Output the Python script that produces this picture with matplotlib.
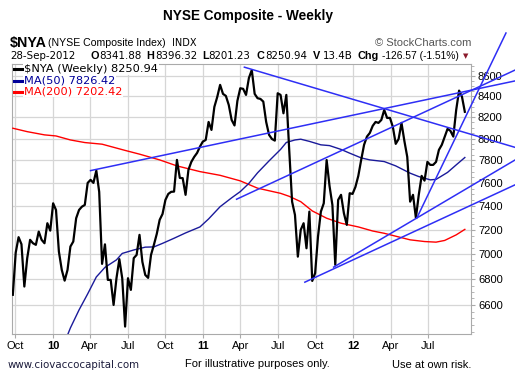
import datetime as dt
import matplotlib
matplotlib.use('Agg')
import matplotlib.pyplot as plt
from matplotlib.ticker import FixedLocator, NullFormatter

# weekly closes of $NYA, first week ending 25-Sep-2009, last 28-Sep-2012
start = dt.date(2009, 9, 25)
closes = [6678, 7011, 7138, 7080, 6742, 6967, 7116, 7088, 7075, 7184,
          7116, 7088, 7254, 7192, 7423, 7366, 7020, 6873, 6788, 6873,
          7061, 7102, 7296, 7366, 7394, 7409, 7600, 7627, 7600, 7709,
          7522, 6921, 7079, 6794, 6794, 6600, 6807, 6959, 6807, 6437,
          6807, 6716, 6967, 6993, 7157, 6937, 6833, 6810, 6993, 7075,
          7165, 7282, 7332, 7452, 7504, 7522, 7524, 7805, 7644, 7642,
          7496, 7716, 7787, 7832, 7868, 7926, 7972, 7987, 8155, 8080,
          8298, 8394, 8512, 8424, 8404, 8317, 8174, 8122, 8356, 8479,
          8473, 8414, 8580, 8659, 8424, 8382, 8375, 8349, 8155, 8034,
          7996, 7981, 8430, 8414, 8237, 8414, 7896, 7437, 7324, 6979,
          7198, 7254, 7047, 7352, 6786, 6847, 7143, 7352, 7423, 7804,
          7574, 7409, 6913, 7452, 7496, 7338, 7240, 7510, 7504, 7565,
          7662, 7805, 7942, 8018, 8052, 8118, 8155, 8146, 8174, 8269,
          8193, 8193, 8108, 7951, 7996, 8146, 7978, 7832, 7437, 7496,
          7299, 7496, 7662, 7620, 7787, 7760, 7760, 7787, 7896, 7942,
          8015, 8090, 8071, 8018, 8269, 8456, 8397, 8251]

# moving averages read at some weeks (week number from start)
ma50_weeks = [18, 20, 23, 26, 29, 32, 36, 38, 42, 46, 49, 52, 56, 60, 65, 68,
              72, 76, 79, 82, 85, 89, 93, 95, 98, 100, 103, 107, 110, 114,
              117, 121, 124, 129, 133, 138, 141, 145, 147, 151, 154, 157]
ma50_vals = [6322, 6427, 6562, 6685, 6817, 6893, 6953, 7005, 7033, 7056, 7058,
             7087, 7129, 7173, 7223, 7290, 7394, 7470, 7524, 7596, 7689, 7796,
             7900, 7964, 7987, 7994, 7974, 7942, 7935, 7900, 7866, 7823, 7805,
             7790, 7751, 7686, 7656, 7627, 7631, 7693, 7760, 7826.42]
ma200_weeks = [0, 5, 11, 15, 20, 25, 31, 39, 44, 51, 57, 65, 72, 79, 85, 93,
               96, 100, 104, 109, 114, 120, 125, 129, 134, 138, 143, 147, 150,
               154, 157]
ma200_vals = [8096, 8064, 8034, 8024, 7987, 7963, 7948, 7891, 7857, 7805, 7751,
              7700, 7667, 7618, 7554, 7509, 7483, 7437, 7358, 7296, 7254, 7223,
              7189, 7170, 7140, 7116, 7102, 7097, 7111, 7157, 7202.42]

# hand drawn trend lines: (start date, price, end date, price)
trend_lines = [
    ('2010-04-02', 7709, '2013-01-28', 8551),
    ('2011-04-11', 8688, '2013-01-28', 7919),
    ('2011-03-23', 7458, '2013-01-28', 8659),
    ('2012-06-03', 7296, '2013-01-06', 9038),
    ('2011-09-05', 6776, '2013-01-28', 7583),
    ('2011-11-14', 6895, '2013-01-28', 7804),
]

tick_dates = ['2009-10-01', '2010-01-01', '2010-04-01', '2010-07-01',
              '2010-10-01', '2011-01-01', '2011-04-01', '2011-07-01',
              '2011-10-01', '2012-01-01', '2012-04-01', '2012-07-01']
tick_labels = ['Oct', '10', 'Apr', 'Jul', 'Oct', '11', 'Apr', 'Jul',
               'Oct', '12', 'Apr', 'Jul']
price_ticks = list(range(6600, 8601, 200))

W, H = 515, 385
FONT = 'Liberation Sans'
WIDE = 'DejaVu Sans'


def week_dates(weeks):
    return [start + dt.timedelta(weeks=w) for w in weeks]


def d(s):
    return dt.datetime.strptime(s, '%Y-%m-%d').date()


def px(x, y):
    return x / W, 1 - y / H


fig = plt.figure(figsize=(W / 100, H / 100), dpi=100)
fig.patch.set_facecolor('white')
ax = fig.add_axes([12 / W, 1 - 334 / H, (471 - 12) / W, (334 - 64) / H])

ax.set_yscale('log')
ax.set_ylim(6382, 8720)
ax.set_xlim(d('2009-09-23'), d('2012-10-13'))

ax.yaxis.set_major_locator(FixedLocator(price_ticks))
ax.yaxis.set_minor_locator(FixedLocator(range(6400, 8751, 50)))
ax.yaxis.set_minor_formatter(NullFormatter())
ax.set_yticklabels([str(p) for p in price_ticks])
ax.yaxis.tick_right()
ax.tick_params(axis='y', which='major', length=3, color='#aaaaaa',
               labelsize=8, pad=2)
ax.tick_params(axis='y', which='minor', length=2, color='#aaaaaa')

ax.set_xticks([d(t) for t in tick_dates])
ax.set_xticklabels(tick_labels)
ax.tick_params(axis='x', length=3, color='#aaaaaa', labelsize=8, pad=2)
for lab in ax.get_xticklabels():
    lab.set_fontfamily(FONT)
    if lab.get_text() in ('10', '11', '12'):
        lab.set_fontweight('bold')
for lab in ax.get_yticklabels():
    lab.set_fontfamily(FONT)

ax.grid(True, which='major', color='#d6d6d6', lw=0.9)
ax.set_axisbelow(True)
for sp in ax.spines.values():
    sp.set_color('#aaaaaa')

# price and moving averages
ax.plot(week_dates(ma200_weeks), ma200_vals, color='#ff0000', lw=1.0, zorder=3)
ax.plot(week_dates(ma50_weeks), ma50_vals, color='#1a1a9a', lw=1.0, zorder=3)
ax.plot(week_dates(range(len(closes))), closes, color='black', lw=1.6, zorder=4)

for d1, p1, d2, p2 in trend_lines:
    ax.plot([d(d1), d(d2)], [p1, p2], color='#2e2ef5', lw=1.1, zorder=5,
            clip_on=False)

# legend rows
legend_rows = [(r'\$NYA (Weekly) 8250.94', 'black', 69),
               ('MA(50) 7826.42', '#000099', 80.5),
               ('MA(200) 7202.42', '#ff0000', 91.5)]
for txt, col, y in legend_rows:
    fig.text(*px(24, y), txt, color=col, fontsize=8.2, family=WIDE,
             va='center', ha='left', zorder=10,
             bbox=dict(facecolor='white', edgecolor='none', pad=0.6))
    fig.add_artist(plt.Line2D([14 / W, 22 / W], [1 - y / H, 1 - y / H],
                              color=col, lw=2.2, zorder=11))

# header
fig.text(*px(248, 16), 'NYSE Composite - Weekly', ha='center', va='center',
         fontsize=9.8, fontweight='bold', family=FONT)
fig.text(*px(10, 43), r'\$NYA', ha='left', va='center', fontsize=10.3,
         fontweight='bold', family=FONT)
fig.text(*px(48, 43.5), '(NYSE Composite Index)', ha='left', va='center',
         fontsize=7.6, family=FONT)
fig.text(*px(172, 43.5), 'INDX', ha='left', va='center', fontsize=7,
         family=WIDE)
fig.text(*px(471, 43.5), '\u00a9 StockCharts.com', ha='right', va='center',
         fontsize=8, family=FONT, color='#555555')

line2 = [(10, '28-Sep-2012', False), (90.5, 'O', True), (99, '8341.88', False),
         (146.5, 'H', True), (155, '8396.32', False), (202.5, 'L', True),
         (208.5, '8201.23', False), (256.5, 'C', True), (265, '8250.94', False),
         (313, 'V', True), (322.5, '13.4B', False), (357.5, 'Chg', True),
         (382, '-126.57 (-1.51%)', False)]
for x, txt, bold in line2:
    if bold:
        fig.text(*px(x, 56), txt, ha='left', va='center', fontsize=7.8,
                 fontweight='bold', family=FONT)
    else:
        fig.text(*px(x, 56), txt, ha='left', va='center', fontsize=7.4,
                 family=WIDE if len(txt) < 12 else FONT)
fig.text(*px(466, 56.5), '\u25bc', ha='center', va='center', fontsize=5,
         color='#8b1a2b', family=WIDE)

# footer
fig.text(*px(8, 365), 'www.ciovaccocapital.com', ha='left', va='center',
         fontsize=7.4, family=WIDE, color='#1c1c3c')
fig.text(*px(257, 364), 'For illustrative purposes only.', ha='center',
         va='center', fontsize=8, family=FONT)
fig.text(*px(471, 365), 'Use at own risk.', ha='right', va='center',
         fontsize=8, family=FONT)

fig.savefig('out.png', dpi=100)
